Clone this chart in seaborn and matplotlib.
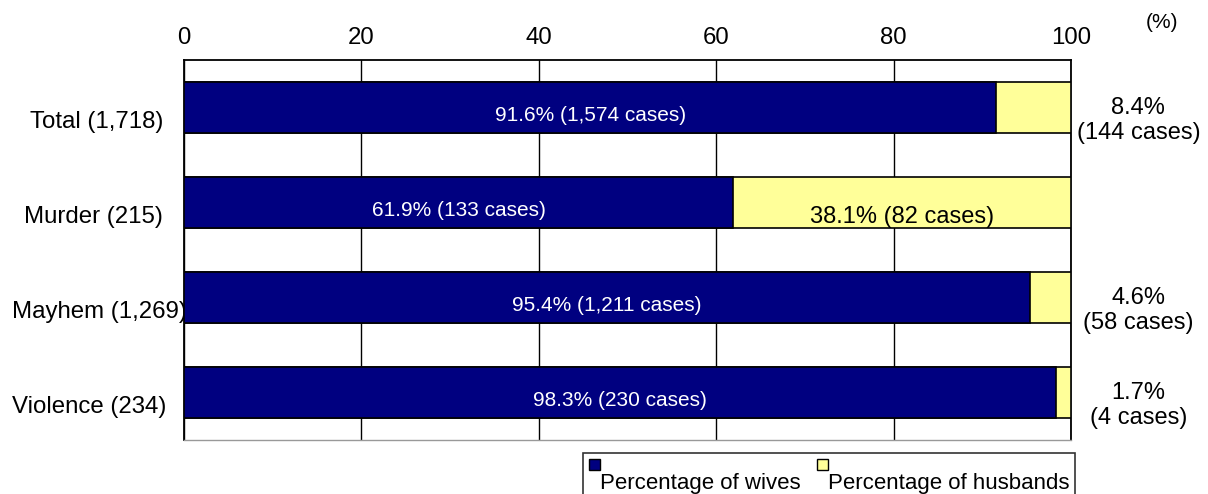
import matplotlib
matplotlib.use("Agg")
import matplotlib.pyplot as plt
import matplotlib.transforms as mtransforms
from matplotlib.patches import Patch, Rectangle
from matplotlib.legend_handler import HandlerPatch
import seaborn as sns
import pandas as pd

categories = ["Total (1,718)", "Murder (215)", "Mayhem (1,269)", "Violence (234)"]
wives_pct = [91.6, 61.9, 95.4, 98.3]
wives_cases = ["1,574", "133", "1,211", "230"]
husb_pct = [8.4, 38.1, 4.6, 1.7]
husb_cases = ["144", "82", "58", "4"]
xticks = [0, 20, 40, 60, 80, 100]

NAVY = "#000080"
YELLOW = "#FFFF99"

sns.set_style("white")
plt.rcParams["font.family"] = ["Liberation Sans", "DejaVu Sans"]
plt.rcParams["text.color"] = "black"
plt.rcParams["xtick.color"] = "black"
plt.rcParams["ytick.color"] = "black"
plt.rcParams["xtick.labelcolor"] = "black"
plt.rcParams["ytick.labelcolor"] = "black"

df = pd.DataFrame({
    "cat": categories,
    "wives": wives_pct,
    "total": [w + h for w, h in zip(wives_pct, husb_pct)],
})

fig = plt.figure(figsize=(12.08, 4.94), dpi=100)
W, H = 1208, 494
ax = fig.add_axes([184 / W, 1 - 440 / H, (1071 - 184) / W, 380 / H])

sns.barplot(data=df, x="total", y="cat", color=YELLOW, edgecolor="black",
            linewidth=1.2, width=0.54, saturation=1, ax=ax, zorder=3)
sns.barplot(data=df, x="wives", y="cat", color=NAVY, edgecolor="black",
            linewidth=1.2, width=0.54, saturation=1, ax=ax, zorder=4)

ax.set_xlim(0, 100)
ax.set_ylim(3.5, -0.5)
ax.set_xlabel("")
ax.set_ylabel("")

# x axis on top
ax.xaxis.tick_top()
ax.set_xticks(xticks)
ax.set_xticklabels([str(t) for t in xticks], fontsize=17.3, color="black")
ax.tick_params(axis="x", length=0, pad=8)
ax.grid(axis="x", color="black", linewidth=1.0, zorder=1)
ax.set_axisbelow(True)

# y axis
ax.set_yticks(range(len(categories)))
ax.set_yticklabels(categories, fontsize=17.3, color="black")
ax.tick_params(axis="y", which="major", length=0, pad=15)
ax.set_yticks([i + 0.5 for i in range(len(categories))], minor=True)
ax.tick_params(axis="y", which="minor", direction="in", length=6, width=1.2, color="black")
offset = mtransforms.ScaledTranslation(0, -12 / 100, fig.dpi_scale_trans)
for lab in ax.get_yticklabels():
    lab.set_transform(lab.get_transform() + offset)

for side in ["left", "top", "right"]:
    ax.spines[side].set_color("black")
    ax.spines[side].set_linewidth(1.3)
    ax.spines[side].set_visible(True)
ax.spines["bottom"].set_color("#999999")
ax.spines["bottom"].set_linewidth(1.0)
ax.spines["bottom"].set_visible(True)

for i, (wp, wc, hp, hc) in enumerate(zip(wives_pct, wives_cases, husb_pct, husb_cases)):
    ax.text(wp / 2, i + 0.08, f"{wp}% ({wc} cases)", color="white",
            ha="center", va="center", fontsize=15, zorder=6)
    if hp > 20:
        ax.text(wp + hp / 2, i + 0.15, f"{hp}% ({hc} cases)", color="black",
                ha="center", va="center", fontsize=17, zorder=6)
    else:
        ax.text(107.6, i + 0.135, f"{hp}%\n({hc} cases)", color="black",
                ha="center", va="center", fontsize=17, linespacing=1.15,
                clip_on=False, zorder=6)

fig.text(1162 / W, 1 - 22 / H, "(%)", ha="center", va="center", fontsize=15)


def top_square(legend, orig_handle, xdescent, ydescent, width, height, fontsize):
    s = 0.5 * fontsize
    return Rectangle((-xdescent, -ydescent + height - s), s, s)


handles = [Patch(facecolor=NAVY, edgecolor="black", label="Percentage of wives"),
           Patch(facecolor=YELLOW, edgecolor="black", label="Percentage of husbands")]
leg = fig.legend(handles=handles, loc="upper left", bbox_to_anchor=(583 / W, 1 - 453 / H),
                 ncol=2, fontsize=16, frameon=True, fancybox=False, shadow=False,
                 handlelength=0.5, handleheight=3.0, handletextpad=0.0,
                 columnspacing=0.75, borderpad=0.25, borderaxespad=0,
                 handler_map={Patch: HandlerPatch(patch_func=top_square)})
leg.get_frame().set_edgecolor("black")
leg.get_frame().set_linewidth(1.2)

# keep long category labels inside the figure
fig.canvas.draw()
renderer = fig.canvas.get_renderer()
for lab in ax.get_yticklabels():
    bb = lab.get_window_extent(renderer)
    if bb.x0 < 12:
        shift = mtransforms.ScaledTranslation((12 - bb.x0) / fig.dpi, 0, fig.dpi_scale_trans)
        lab.set_transform(lab.get_transform() + shift)

fig.savefig("out.png", dpi=100)
